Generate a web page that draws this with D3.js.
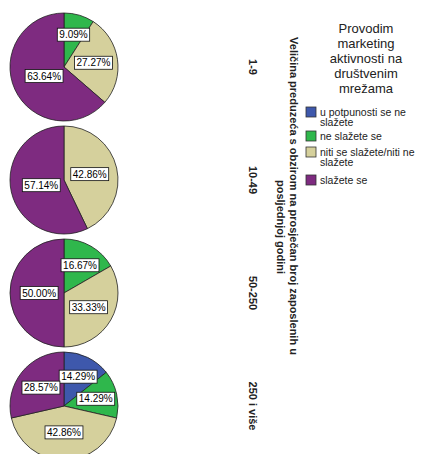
<!DOCTYPE html>
<html>
<head>
<meta charset="utf-8">
<script src="https://cdn.jsdelivr.net/npm/d3@7"></script>
<style>
  body { margin: 0; background: #fff; }
  svg { font-family: "Liberation Sans", Arial, sans-serif; }
</style>
</head>
<body>
<div id="chart"></div>
<script>
// groups (rows) and legend categories
const groups = ["1-9", "10-49", "50-250", "250 i više"];
const categories = ["u potpunosti se ne slažete", "ne slažete se", "niti se slažete/niti ne slažete", "slažete se"];
const legendLines = [["u potpunosti se ne", "slažete"], ["ne slažete se"], ["niti se slažete/niti ne", "slažete"], ["slažete se"]];
const colors = ["#3e58ac", "#2fb74c", "#d5d09c", "#7e2b80"];

// percentages per group, in category order
const share_1_9 = [0, 9.09, 27.27, 63.64];
const share_10_49 = [0, 0, 42.86, 57.14];
const share_50_250 = [0, 16.67, 33.33, 50.00];
const share_250 = [14.29, 14.29, 42.86, 28.57];
const shares = [share_1_9, share_10_49, share_50_250, share_250];

const axisTitle = ["Veličina preduzeća s obzirom na prosječan broj zaposlenih u", "posljednjoj godini"];
const legendTitle = ["Provodim", "marketing", "aktivnosti na", "društvenim", "mrežama"];

const width = 430, height = 454;
const radius = 54;
const pieX = 64;

const svg = d3.select("#chart").append("svg")
    .attr("width", width)
    .attr("height", height);

const y = d3.scalePoint()
    .domain(groups)
    .range([67, 406]);

const pie = d3.pie().sort(null).value(d => d.value);
const arc = d3.arc().innerRadius(0).outerRadius(radius);

groups.forEach((grp, gi) => {
    const data = shares[gi].map((v, i) => ({ value: v, cat: i }));
    const g = svg.append("g").attr("transform", `translate(${pieX},${y(grp)})`);
    const arcs = pie(data).filter(d => d.data.value > 0);

    g.selectAll("path")
        .data(arcs)
        .enter().append("path")
        .attr("d", arc)
        .attr("fill", d => colors[d.data.cat])
        .attr("stroke", "#222")
        .attr("stroke-width", 0.8);

    const lab = g.selectAll(".lab")
        .data(arcs)
        .enter().append("g")
        .attr("class", "lab");

    lab.each(function(d) {
        const el = d3.select(this);
        const txt = el.append("text")
            .attr("font-size", 10)
            .attr("text-anchor", "middle")
            .attr("dy", "0.35em")
            .attr("fill", "#000")
            .text(d.data.value.toFixed(2) + "%");
        const w = txt.node().getComputedTextLength() + 4;
        // bigger slices get their label nearer the centre
        const frac = d.data.value / 100;
        const r = radius * (0.66 - 0.4 * frac);
        const [cx, cy] = d3.arc().innerRadius(r).outerRadius(r).centroid(d);
        el.attr("transform", `translate(${cx},${cy})`);
        el.insert("rect", "text")
            .attr("x", -w / 2)
            .attr("y", -6.5)
            .attr("width", w)
            .attr("height", 13)
            .attr("fill", "#fff")
            .attr("stroke", "#111")
            .attr("stroke-width", 0.8);
    });
});

// group labels, rotated
svg.selectAll(".grp")
    .data(groups)
    .enter().append("text")
    .attr("class", "grp")
    .attr("transform", d => `translate(249,${y(d)}) rotate(90)`)
    .attr("text-anchor", "middle")
    .attr("font-size", 11)
    .attr("font-weight", "bold")
    .attr("fill", "#222")
    .text(d => d);

// axis title, rotated, two lines
svg.append("text")
    .attr("transform", "translate(290,196) rotate(90)")
    .attr("text-anchor", "middle")
    .attr("font-size", 11)
    .attr("font-weight", "bold")
    .attr("fill", "#222")
    .text(axisTitle[0]);
svg.append("text")
    .attr("transform", "translate(277,180) rotate(90)")
    .attr("text-anchor", "start")
    .attr("font-size", 11)
    .attr("font-weight", "bold")
    .attr("fill", "#222")
    .text(axisTitle[1]);

// legend
const leg = svg.append("g");
leg.selectAll(".ltitle")
    .data(legendTitle)
    .enter().append("text")
    .attr("class", "ltitle")
    .attr("x", 366)
    .attr("y", (d, i) => 33 + i * 15)
    .attr("text-anchor", "middle")
    .attr("font-size", 13)
    .attr("fill", "#222")
    .text(d => d);

const itemTop = [107, 131, 147, 175];
categories.forEach((c, i) => {
    const it = leg.append("g").attr("transform", `translate(306,${itemTop[i]})`);
    it.append("rect")
        .attr("width", 10)
        .attr("height", 10)
        .attr("fill", colors[i])
        .attr("stroke", "#333")
        .attr("stroke-width", 0.8);
    it.selectAll("text")
        .data(legendLines[i])
        .enter().append("text")
        .attr("x", 14)
        .attr("y", (d, j) => 5 + j * 10.5)
        .attr("dy", "0.35em")
        .attr("font-size", 10.5)
        .attr("fill", "#222")
        .text(d => d);
});
</script>
</body>
</html>
